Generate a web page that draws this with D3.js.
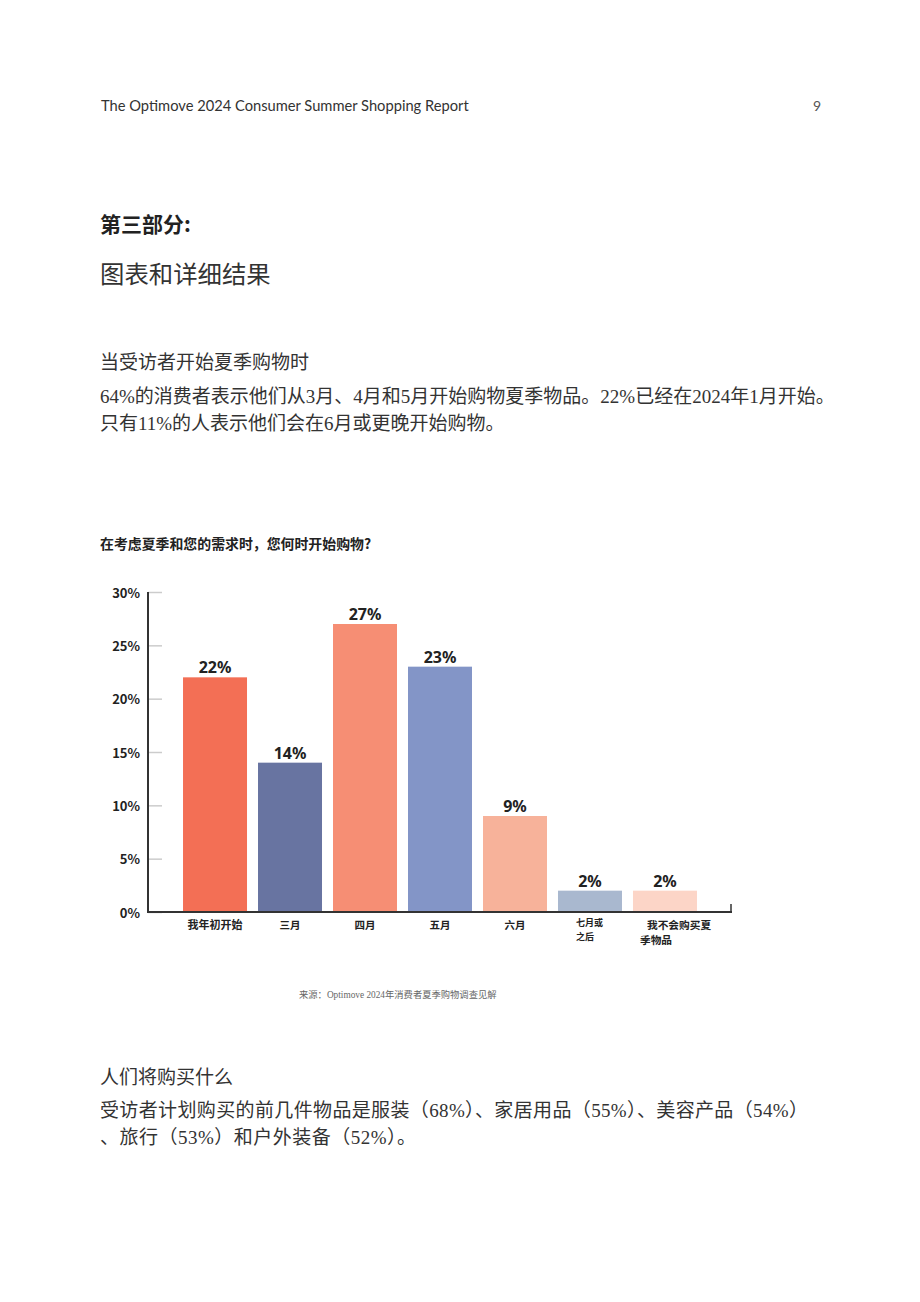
<!DOCTYPE html>
<html>
<head>
<meta charset="utf-8">
<script src="https://cdn.jsdelivr.net/npm/d3@7"></script>
<style>
  body { margin: 0; background: #fff; }
  svg { display: block; }
</style>
</head>
<body>
<div id="page"></div>
<script>
// chart data
var categories = ["我年初开始", "三月", "四月", "五月", "六月", "七月或之后", "我不会购买夏季物品"];
var values = [22, 14, 27, 23, 9, 2, 2];
var barColors = ["#F36F55", "#6874A1", "#F68E74", "#8395C7", "#F7B29A", "#A9B8CF", "#FCD5C7"];
var yTicks = [0, 5, 10, 15, 20, 25, 30];
// how the x labels are broken into lines
var xLabelLines = [["我年初开始"], ["三月"], ["四月"], ["五月"], ["六月"], ["七月或", "之后"], ["我不会购买夏", "季物品"]];

var sansCJK = "'Noto Sans CJK SC', 'Noto Sans', sans-serif";
var bodyFont = "'Liberation Serif', 'Noto Sans CJK SC', serif";

var svg = d3.select("#page").append("svg").attr("width", 920).attr("height", 1302);

// page header
svg.append("text").attr("x", 101).attr("y", 111)
    .attr("font-family", "Lato, 'Open Sans', sans-serif").attr("font-size", 14.7)
    .attr("fill", "#333").text("The Optimove 2024 Consumer Summer Shopping Report");
svg.append("text").attr("x", 821).attr("y", 111).attr("text-anchor", "end")
    .attr("font-family", "Lato, sans-serif").attr("font-size", 14)
    .attr("fill", "#555").text("9");

svg.append("text").attr("x", 100).attr("y", 232)
    .attr("font-family", sansCJK).attr("font-weight", "bold").attr("font-size", 21)
    .attr("fill", "#222").text("第三部分:");
svg.append("text").attr("x", 100).attr("y", 283)
    .attr("font-family", sansCJK).attr("font-size", 24.4)
    .attr("fill", "#333").text("图表和详细结果");

// paragraphs
var paras = [
    {y: 369, t: "当受访者开始夏季购物时"},
    {y: 403, t: "64%的消费者表示他们从3月、4月和5月开始购物夏季物品。22%已经在2024年1月开始。"},
    {y: 430, t: "只有11%的人表示他们会在6月或更晚开始购物。"},
    {y: 1084, t: "人们将购买什么"},
    {y: 1117, t: "受访者计划购买的前几件物品是服装（68%）、家居用品（55%）、美容产品（54%）", len: 708},
    {y: 1144, t: "、旅行（53%）和户外装备（52%）。", len: 316}
];
svg.selectAll("text.para").data(paras).enter().append("text")
    .attr("class", "para")
    .attr("x", 100).attr("y", function (d) { return d.y; })
    .attr("font-family", bodyFont).attr("font-size", 19)
    .attr("fill", "#333")
    .attr("textLength", function (d) { return d.len || null; })
    .text(function (d) { return d.t; });

// chart title
svg.append("text").attr("x", 100).attr("y", 549)
    .attr("font-family", sansCJK).attr("font-weight", "bold").attr("font-size", 13.9)
    .attr("fill", "#222").text("在考虑夏季和您的需求时，您何时开始购物?");

// scales
var x = d3.scaleBand().domain(categories).range([148, 732])
    .paddingInner(0.1467).paddingOuter(0.467);
var y = d3.scaleLinear().domain([0, 30]).range([912, 592]);

var g = svg.append("g");

// y axis: grey ticks to the right, labels to the left
var yAxis = g.append("g").attr("transform", "translate(148,0)")
    .call(d3.axisLeft(y).tickValues(yTicks).tickSize(-14).tickPadding(8)
        .tickFormat(function (d) { return d + "%"; }));
yAxis.select(".domain").remove();
yAxis.selectAll(".tick line").attr("stroke", "#ccc").attr("stroke-width", 1.5);
yAxis.selectAll(".tick text")
    .attr("font-family", sansCJK).attr("font-weight", "bold").attr("font-size", 13)
    .attr("fill", "#222").attr("dy", "0.4em");

// bars
g.selectAll("rect.bar").data(values).enter().append("rect")
    .attr("class", "bar")
    .attr("x", function (d, i) { return x(categories[i]); })
    .attr("y", function (d) { return y(d); })
    .attr("width", x.bandwidth())
    .attr("height", function (d) { return y(0) - y(d); })
    .attr("fill", function (d, i) { return barColors[i]; });

// value labels
g.selectAll("text.val").data(values).enter().append("text")
    .attr("class", "val")
    .attr("x", function (d, i) { return x(categories[i]) + x.bandwidth() / 2; })
    .attr("y", function (d) { return y(d) - 4; })
    .attr("text-anchor", "middle")
    .attr("font-family", "'Noto Sans', 'Open Sans', sans-serif").attr("font-weight", "bold")
    .attr("font-size", 16).attr("fill", "#222")
    .text(function (d) { return d + "%"; });

// axis lines
g.append("line").attr("x1", 148).attr("x2", 148).attr("y1", y(30)).attr("y2", y(0))
    .attr("stroke", "#333").attr("stroke-width", 2);
g.append("line").attr("x1", 147).attr("x2", 732).attr("y1", y(0)).attr("y2", y(0))
    .attr("stroke", "#333").attr("stroke-width", 2);
g.append("line").attr("x1", 731).attr("x2", 731).attr("y1", y(0) - 8).attr("y2", y(0))
    .attr("stroke", "#333").attr("stroke-width", 1.5);

// x labels
var labelSizes = [11, 10.5, 10.5, 10.5, 10.5, 9, 10.7];
xLabelLines.forEach(function (lines, i) {
    var cx = x(categories[i]) + x.bandwidth() / 2;
    lines.forEach(function (line, j) {
        var t = g.append("text")
            .attr("y", i === 5 ? 926 + j * 14 : 929 + j * 15)
            .attr("font-family", sansCJK).attr("font-weight", "bold")
            .attr("font-size", labelSizes[i]).attr("fill", "#222").text(line);
        if (i === 5) {
            t.attr("x", cx - 14);
        } else if (i === 6) {
            t.attr("x", j === 0 ? cx - 18 : cx - 25);
        } else {
            t.attr("x", cx).attr("text-anchor", "middle");
        }
    });
});

// source
svg.append("text").attr("x", 299).attr("y", 998)
    .attr("font-family", bodyFont).attr("font-size", 9.3)
    .attr("fill", "#666").text("来源：Optimove 2024年消费者夏季购物调查见解");
</script>
</body>
</html>
